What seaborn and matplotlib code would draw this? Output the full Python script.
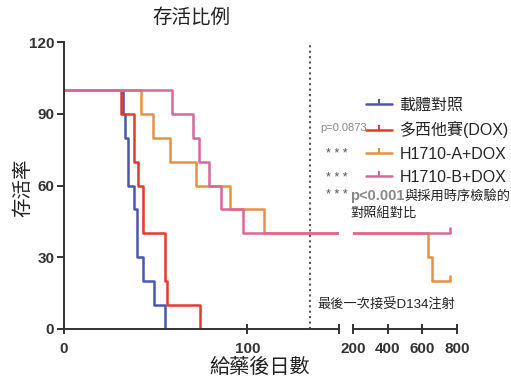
import pandas as pd
import numpy as np
import matplotlib.pyplot as plt
import seaborn as sns
from matplotlib.lines import Line2D

# Survival data
groups = ['載體對照', '多西他賽(DOX)', 'H1710-A+DOX', 'H1710-B+DOX']
colors = ['#4a56b3', '#e5392c', '#e8913f', '#d9679a']

vehicle_day = [0, 32, 33, 35, 38, 40, 43, 49, 55]
vehicle_surv = [100, 90, 80, 60, 50, 30, 20, 10, 0]
dox_day = [0, 31, 38, 40.5, 43, 55, 56, 74]
dox_surv = [100, 90, 70, 60, 40, 20, 10, 0]
a_day = [0, 42, 48.5, 58, 72, 90.5, 109, 631, 657, 760]
a_surv = [100, 90, 80, 70, 60, 50, 40, 30, 20, 20]
b_day = [0, 59, 70.5, 73.5, 79, 85.5, 97.5, 760]
b_surv = [100, 90, 80, 70, 60, 50, 40, 40]

censor_day = [760, 760]
censor_surv = [20, 40]
censor_group = ['H1710-A+DOX', 'H1710-B+DOX']

left_ticks = [0, 100, 150]
left_labels = ['0', '100', '']
right_ticks = [200, 400, 600, 800]
y_ticks = [0, 30, 60, 90, 120]
last_dose = 134

sns.set_theme(style='ticks')
plt.rcParams['font.family'] = ['Liberation Sans', 'Noto Sans CJK TC']


def build_df():
    '''
        Long dataframe of all step curves
    '''
    frames = []
    for name, d, s in zip(groups, [vehicle_day, dox_day, a_day, b_day],
                          [vehicle_surv, dox_surv, a_surv, b_surv]):
        frames.append(pd.DataFrame({'day': d, 'survival': s, 'group': name}))
    return pd.concat(frames, ignore_index=True)


df = build_df()
palette = dict(zip(groups, colors))

fig = plt.figure(figsize=(5.11, 3.78), dpi=100)
ax1 = fig.add_axes([64 / 511, 1 - 329 / 378, 275 / 511, 287 / 378])
ax2 = fig.add_axes([353 / 511, 1 - 329 / 378, 104 / 511, 287 / 378])

for ax in [ax1, ax2]:
    sns.lineplot(data=df, x='day', y='survival', hue='group', hue_order=groups,
                 palette=palette, estimator=None, drawstyle='steps-post',
                 linewidth=1.8, legend=False, ax=ax)
    for d, s, g in zip(censor_day, censor_surv, censor_group):
        ax.plot(d, s, marker=2, ms=4, mew=1.8, color=palette[g])
    ax.set_ylim(0, 120)
    ax.set_xlabel('')
    ax.set_ylabel('')
    ax.tick_params(axis='x', direction='inout', length=7, width=1.4, color='#333',
                   labelsize=11, pad=6)
    for sp in ['top', 'right']:
        ax.spines[sp].set_visible(False)
    ax.spines['bottom'].set_linewidth(1.4)
    ax.spines['bottom'].set_color('#333')
    ax.patch.set_alpha(0)

# left part
ax1.set_xlim(0, 150)
ax1.set_xticks(left_ticks)
ax1.set_xticklabels(left_labels, fontweight='bold', color='#333')
ax1.set_yticks(y_ticks)
ax1.set_yticklabels([str(v) for v in y_ticks], fontweight='bold', color='#333')
ax1.tick_params(axis='y', direction='out', length=5, width=1.4, color='#333',
                labelsize=11, pad=2)
ax1.spines['left'].set_linewidth(1.4)
ax1.spines['left'].set_color('#333')
ax1.axvline(last_dose, color='#555', ls=(0, (1, 1.6)), lw=1.5, zorder=0)

# right part
ax2.set_xlim(200, 800)
ax2.set_xticks(right_ticks)
ax2.set_xticklabels([str(v) for v in right_ticks], fontweight='bold', color='#333')
ax2.spines['left'].set_visible(False)
ax2.set_yticks([])

# texts
fig.text(191 / 511, 1 - 18 / 378, '存活比例', fontsize=14, ha='center', va='center', color='#222')
fig.text(23 / 511, 1 - 188 / 378, '存活率', fontsize=14, rotation=90, ha='center', va='center', color='#222')
fig.text(260 / 511, 1 - 367 / 378, '給藥後日數', fontsize=14.5, ha='center', va='center', color='#222')

handles = [Line2D([0], [0], color=c, lw=1.8, marker=2, ms=3.5, mew=1.5) for c in colors]
fig.legend(handles, groups, loc='upper left', bbox_to_anchor=(366 / 511, 1 - 98 / 378),
           frameon=False, fontsize=11.5, handlelength=1.6, handletextpad=0.5,
           labelspacing=0.52, borderpad=0, borderaxespad=0)

fig.text(367 / 511, 1 - 128 / 378, 'p=0.0873', fontsize=8, ha='right', va='center', color='#888')
fig.text(337 / 511, 1 - 154 / 378, '* * *', fontsize=9, ha='center', va='center', color='#555')
fig.text(337 / 511, 1 - 178 / 378, '* * *', fontsize=9, ha='center', va='center', color='#555')
fig.text(337 / 511, 1 - 195 / 378, '* * *', fontsize=9, ha='center', va='center', color='#555')
fig.text(350 / 511, 1 - 196 / 378, 'p<0.001', fontsize=10.5, fontweight='bold', ha='left', va='center', color='#888')
fig.text(404 / 511, 1 - 196 / 378, '與採用時序檢驗的', fontsize=9.5, ha='left', va='center', color='#222')
fig.text(350 / 511, 1 - 214 / 378, '對照組對比', fontsize=9.5, ha='left', va='center', color='#222')
fig.text(317 / 511, 1 - 305 / 378, '最後一次接受D134注射', fontsize=9.5, ha='left', va='center', color='#222')

fig.savefig('out.png', dpi=100, facecolor='white')
